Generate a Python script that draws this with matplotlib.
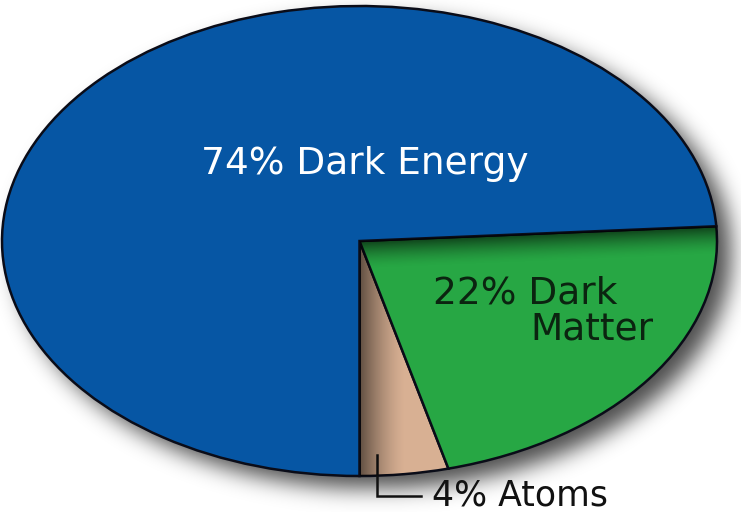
import numpy as np
import matplotlib.pyplot as plt

# composition of the universe
labels = ['Atoms', 'Dark Matter', 'Dark Energy']
shares = [4, 22, 74]
colors = ['#d8b093', '#27a744', '#0656a4']

W, H = 741, 512
cx, cy, rx, ry = 359.5, 241.0, 357.5, 235.0   # ellipse in pixels


def px(x):
    return (x - cx) / rx


def py(y):
    return (cy - y) / ry


def blur(a, sigma):
    k = np.arange(-3 * sigma, 3 * sigma + 1)
    k = np.exp(-0.5 * (k / sigma) ** 2)
    k /= k.sum()
    a = np.apply_along_axis(lambda r: np.convolve(r, k, mode='same'), 1, a)
    a = np.apply_along_axis(lambda c: np.convolve(c, k, mode='same'), 0, a)
    return a


fig = plt.figure(figsize=(W / 100, H / 100), dpi=100)

# soft drop shadow behind the pie
gx, gy = np.meshgrid(np.arange(W), np.arange(H))
mask = (((gx - cx - 14) / rx) ** 2 + ((gy - cy - 12) / ry) ** 2 <= 1).astype(float)
sh = blur(mask, 11)
shadow = np.zeros((H, W, 4))
shadow[..., 3] = 0.7 * sh
bg = fig.add_axes([0, 0, 1, 1])
bg.imshow(shadow, extent=(0, W, H, 0), aspect='auto', interpolation='bilinear')
bg.set_xlim(0, W)
bg.set_ylim(H, 0)
bg.axis('off')

ax = fig.add_axes([0, 0, 1, 1])
ax.patch.set_visible(False)
wedges, _ = ax.pie(shares, colors=colors, startangle=-90, counterclock=True,
                   wedgeprops=dict(edgecolor='#0a0c18', linewidth=1.8))
ax.set_aspect('auto')
ax.set_xlim(px(0), px(W))
ax.set_ylim(py(H), py(0))
ax.axis('off')

# dark shading along the inner edge of the atoms slice
n = 200
t = np.linspace(0, 1, n)
g = np.zeros((1, n, 4))
g[0, :, 3] = 0.55 * np.clip(1 - t / 0.45, 0, 1) ** 1.5
im = ax.imshow(g, extent=(px(cx), px(460), py(480), py(cy)), aspect='auto', zorder=3)
im.set_clip_path(wedges[0])

# dark shading under the top edge of the dark-matter slice
th = np.deg2rad(shares[0] / 100 * 360 + shares[1] / 100 * 360 - 90)
x0, x1, y0, y1 = int(cx), 720, 215, 480
sx, sy = np.meshgrid(np.arange(x0, x1), np.arange(y0, y1))
edge_y = cy - (sx - cx) * np.tan(th) * ry / rx
d = sy - edge_y
g2 = np.zeros(sx.shape + (4,))
g2[..., 3] = 0.6 * np.clip(1 - d / 28, 0, 1) ** 1.6
im2 = ax.imshow(g2, extent=(px(x0), px(x1), py(y1), py(y0)), aspect='auto', zorder=3)
im2.set_clip_path(wedges[1])

ax.text(px(365), py(164), '74% Dark Energy', color='white', fontsize=27,
        ha='center', va='center', family='DejaVu Sans')
ax.text(px(525), py(293), '22% Dark', color='#0b2410', fontsize=27,
        ha='center', va='center', family='DejaVu Sans')
ax.text(px(592), py(330), 'Matter', color='#0b2410', fontsize=27,
        ha='center', va='center', family='DejaVu Sans')

# leader for the small slice
ax.plot([px(377), px(377), px(421)], [py(455), py(496), py(496)],
        color='#111111', lw=1.8, solid_joinstyle='miter')
ax.text(px(432), py(496), '4% Atoms', ha='left', va='center', fontsize=25,
        color='#111111', family='DejaVu Sans')

fig.savefig('out.png', dpi=100, facecolor='white')
